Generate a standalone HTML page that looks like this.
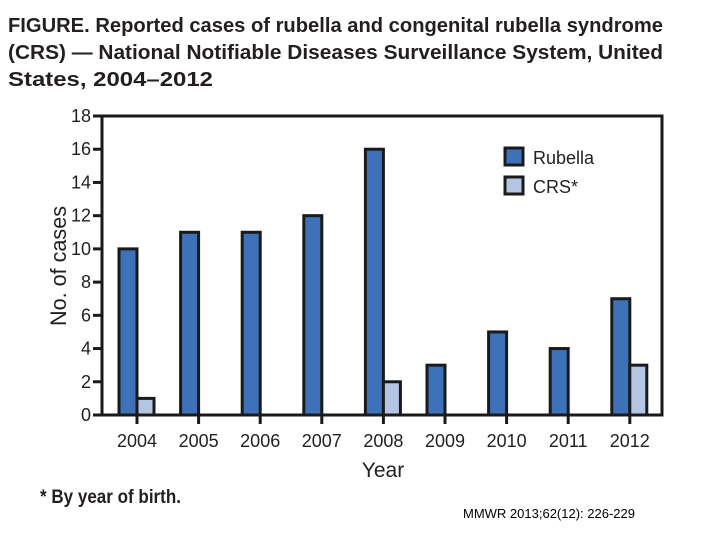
<!DOCTYPE html>
<html><head><meta charset="utf-8"><style>
body{margin:0;background:#fff;}
svg{display:block;font-family:"Liberation Sans",sans-serif;}
</style></head><body>
<svg width="720" height="540">
<g font-weight="bold" font-size="20" fill="#231f20">
<text x="8" y="32" textLength="655" lengthAdjust="spacingAndGlyphs">FIGURE. Reported cases of rubella and congenital rubella syndrome</text>
<text x="8" y="59" textLength="655" lengthAdjust="spacingAndGlyphs">(CRS) — National Notifiable Diseases Surveillance System, United</text>
<text x="8" y="86" textLength="205" lengthAdjust="spacingAndGlyphs">States, 2004–2012</text>
</g>
<g id="plot"></g>
<text transform="translate(66,266) rotate(-90)" text-anchor="middle" font-size="22" fill="#231f20" textLength="120" lengthAdjust="spacingAndGlyphs">No. of cases</text>
<text x="383" y="477" text-anchor="middle" font-size="21" fill="#231f20">Year</text>
<g>
<rect x="505" y="148" width="18" height="17" fill="#3d72b8" stroke="#1a1a1a" stroke-width="3"/>
<text x="533" y="164" font-size="18" fill="#231f20">Rubella</text>
<rect x="505" y="177" width="18" height="17" fill="#b4c5e4" stroke="#1a1a1a" stroke-width="3"/>
<text x="533" y="193" font-size="18" fill="#231f20">CRS*</text>
</g>
<text x="40" y="503" font-size="19" font-weight="bold" fill="#231f20" textLength="141" lengthAdjust="spacingAndGlyphs">* By year of birth.</text>
<text x="463" y="518" font-size="13" fill="#000">MMWR 2013;62(12): 226-229</text>
</svg>
<script>
const years=["2004","2005","2006","2007","2008","2009","2010","2011","2012"];
const rubella=[10,11,11,12,16,3,5,4,7];
const crs=[1,0,0,0,2,0,0,0,3];
const yTicks=[0,2,4,6,8,10,12,14,16,18];
const NS="http://www.w3.org/2000/svg";
const g=document.getElementById('plot');
const L=102,R=662,T=116,B=415;
const y=v=>B-(v/18)*(B-T);
const x=i=>137+i*61.6;
function mk(t,a){const e=document.createElementNS(NS,t);for(const k in a)e.setAttribute(k,a[k]);g.appendChild(e);return e;}
yTicks.forEach(v=>{
 const l=mk('line',{x1:L-9,x2:L,y1:y(v),y2:y(v),stroke:'#1a1a1a','stroke-width':3});
 
 
 const t=mk('text',{x:L-11,y:y(v)+6,'text-anchor':'end','font-size':18,fill:'#231f20'});
 t.textContent=v;
 
 
});
years.forEach((yr,i)=>{
 const cx=x(i);
 const tk=mk('line',{x1:cx,x2:cx,y1:B,y2:B+9,stroke:'#1a1a1a','stroke-width':3});
 
 
 const t=mk('text',{x:cx,y:B+32,'text-anchor':'middle','font-size':18,fill:'#231f20'});
 t.textContent=yr;
 
 
 if(rubella[i]>0){
  const b=mk('rect',{x:cx-18,y:y(rubella[i]),width:18,height:B-y(rubella[i]),fill:'#3d72b8',stroke:'#1a1a1a','stroke-width':3});
  
  
 }
 if(crs[i]>0){
  const b=mk('rect',{x:cx,y:y(crs[i]),width:17,height:B-y(crs[i]),fill:'#b4c5e4',stroke:'#1a1a1a','stroke-width':3});
  
  
 }
});
const fr=mk('rect',{x:L,y:T,width:R-L,height:B-T,fill:'none',stroke:'#1a1a1a','stroke-width':3});


</script>
</body></html>
